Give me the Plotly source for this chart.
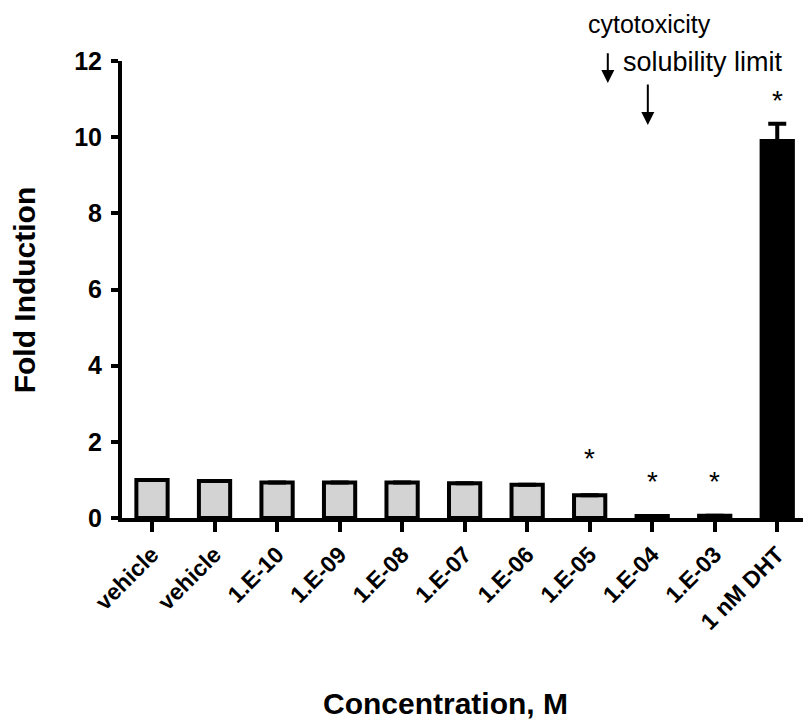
import plotly.graph_objects as go

categories = ["vehicle", "vehicle ", "1.E-10", "1.E-09", "1.E-08", "1.E-07",
              "1.E-06", "1.E-05", "1.E-04", "1.E-03", "1 nM DHT"]
fold = [1.0, 0.97, 0.93, 0.93, 0.93, 0.91, 0.87, 0.60, 0.05, 0.06, 9.9]
err = [0, 0, 0, 0, 0, 0, 0, 0, 0, 0, 0.45]
colors = ["#d3d3d3"] * 10 + ["black"]

# significance stars
star_cats = ["1.E-05", "1.E-04", "1.E-03", "1 nM DHT"]
star_y = [1.55, 0.95, 0.95, 10.95]

FONT = "Liberation Sans, Arial, sans-serif"

fig = go.Figure()
fig.add_trace(go.Bar(
    x=list(range(len(categories))), y=fold,
    width=0.5,
    marker=dict(color=colors, line=dict(color="black", width=4)),
    error_y=dict(type="data", array=err, visible=True, color="black",
                 thickness=4, width=9),
))

for c, yv in zip(star_cats, star_y):
    fig.add_annotation(x=categories.index(c), y=yv, text="*", showarrow=False,
                       font=dict(family=FONT, size=28, color="black"))

# arrows and notes above the plot
fig.add_annotation(x=7.29, y=11.42, ax=7.29, ay=12.24, xref="x", yref="y",
                   axref="x", ayref="y", text="", showarrow=True,
                   arrowhead=2, arrowsize=1.3, arrowwidth=2, arrowcolor="black")
fig.add_annotation(x=7.93, y=10.32, ax=7.93, ay=11.42, xref="x", yref="y",
                   axref="x", ayref="y", text="", showarrow=True,
                   arrowhead=2, arrowsize=1.3, arrowwidth=2, arrowcolor="black")
fig.add_annotation(x=7.96, y=1.082, xref="x", yref="paper", text="cytotoxicity",
                   showarrow=False, xanchor="center", yanchor="middle",
                   font=dict(family=FONT, size=25, color="black"))
fig.add_annotation(x=7.5, y=0.997, xref="x", yref="paper", text="solubility limit",
                   showarrow=False, xanchor="left", yanchor="middle",
                   font=dict(family=FONT, size=27, color="black"))

# axis titles
fig.add_annotation(x=0.47, y=-0.405, xref="paper", yref="paper",
                   text="<b>Concentration, M</b>", showarrow=False,
                   xanchor="center", yanchor="middle",
                   font=dict(family=FONT, size=30, color="black"))
fig.add_annotation(x=-0.141, y=0.5, xref="paper", yref="paper",
                   text="<b>Fold Induction</b>", showarrow=False, textangle=-90,
                   xanchor="center", yanchor="middle",
                   font=dict(family=FONT, size=30, color="black"))

# page body has an 8px margin, so the figure is sized to fit inside the window
fig.update_layout(
    width=803, height=715,
    margin=dict(l=114, r=0, t=53, b=205),
    plot_bgcolor="white", paper_bgcolor="white",
    showlegend=False,
    font=dict(family=FONT, color="black"),
)
fig.update_xaxes(
    range=[-0.48, 10.54], automargin=False,
    tickmode="array", tickvals=list(range(len(categories))),
    ticktext=[c.strip() for c in categories],
    tickangle=-45,
    tickfont=dict(family=FONT, size=23, color="black", weight="bold"),
    showline=True, linecolor="black", linewidth=4,
    ticks="outside", ticklen=10, tickwidth=4, tickcolor="black",
    showgrid=False, zeroline=False,
)
fig.update_yaxes(
    range=[0, 12], tickvals=[0, 2, 4, 6, 8, 10, 12], automargin=False,
    tickfont=dict(family=FONT, size=25, color="black", weight="bold"),
    ticklabelstandoff=4,
    showline=True, linecolor="black", linewidth=4,
    ticks="outside", ticklen=7, tickwidth=4, tickcolor="black",
    showgrid=False, zeroline=False,
)

fig.write_html("out.html")
